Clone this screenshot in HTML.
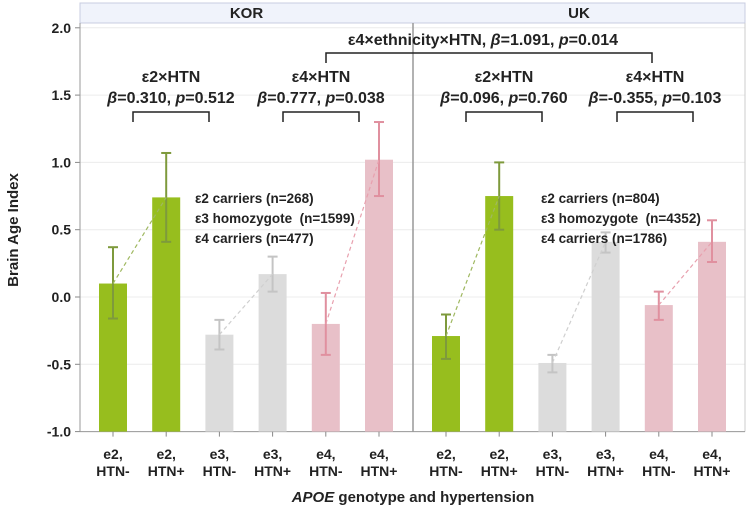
<!DOCTYPE html>
<html><head><meta charset="utf-8"><style>
body{margin:0;background:#fff}
svg text{font-family:"Liberation Sans",Arial,sans-serif;font-weight:bold;fill:#222;white-space:pre}
</style></head><body>
<svg width="750" height="510">
<g id="g"></g>
</svg>
<script>
const categories=["e2, HTN-","e2, HTN+","e3, HTN-","e3, HTN+","e4, HTN-","e4, HTN+"];
const korValues=[0.10,0.74,-0.28,0.17,-0.20,1.02];
const korLow=[-0.16,0.41,-0.39,0.04,-0.43,0.75];
const korHigh=[0.37,1.07,-0.17,0.30,0.03,1.30];
const ukValues=[-0.29,0.75,-0.49,0.41,-0.06,0.41];
const ukLow=[-0.46,0.50,-0.56,0.33,-0.17,0.26];
const ukHigh=[-0.13,1.00,-0.43,0.48,0.04,0.57];
const yTicks=[2.0,1.5,1.0,0.5,0.0,-0.5,-1.0];

const NS="http://www.w3.org/2000/svg";
const g=document.getElementById('g');
function el(t,a,txt){const e=document.createElementNS(NS,t);for(const k in a)e.setAttribute(k,a[k]);if(txt!=null)e.textContent=txt;g.appendChild(e);return e;}
const y=v=>297-v*134.6;
const L=80,M=413,R=745;
const xPos=(p,i)=>(p===0?L:M)+33+i*53.2;
const fills=["#97be1e","#97be1e","#dcdcdc","#dcdcdc","#e8c0c8","#e8c0c8"];
const errc=["#7e9a3c","#7e9a3c","#c4c4c4","#c4c4c4","#e0909f","#e0909f"];
const dash=["#9fb860","#9fb860","#cfcfcf","#cfcfcf","#e8a0ae","#e8a0ae"];
let h=el('rect',{x:L,y:3,width:R-L,height:20,fill:'#f0f3fb',stroke:'#c8cce0'});


let t=el('text',{x:(L+M)/2,y:18,'text-anchor':'middle','font-size':15},'KOR');


t=el('text',{x:(M+R)/2,y:18,'text-anchor':'middle','font-size':15},'UK');


yTicks.forEach(v=>{
 let l=el('line',{x1:L,x2:R,y1:y(v),y2:y(v),stroke:'#ececec'});
 
 
 el('line',{x1:L-5,x2:L,y1:y(v),y2:y(v),stroke:'#888'});
 let tx=el('text',{x:L-9,y:y(v)+5,'text-anchor':'end','font-size':14},v.toFixed(1));
 
 
});
el('line',{x1:L,x2:L,y1:23,y2:y(-1),stroke:'#999'});
el('line',{x1:M,x2:M,y1:23,y2:y(-1),stroke:'#999',"stroke-width":1.5});
el('line',{x1:R,x2:R,y1:23,y2:y(-1),stroke:'#ccc'});
el('line',{x1:L,x2:R,y1:y(-1),y2:y(-1),stroke:'#999'});
[[korValues,korLow,korHigh],[ukValues,ukLow,ukHigh]].forEach((d,p)=>{
 const [vals,lo,hi]=d;
 vals.forEach((v,i)=>{
  const cx=xPos(p,i);
  let bar=el('rect',{x:cx-14,y:Math.min(y(v),y(-1)),width:28,height:Math.abs(y(-1)-y(v)),fill:fills[i]});
  
  
  el('line',{x1:cx,x2:cx,y1:y(lo[i]),y2:y(hi[i]),stroke:errc[i],'stroke-width':2});
  el('line',{x1:cx-5,x2:cx+5,y1:y(lo[i]),y2:y(lo[i]),stroke:errc[i],'stroke-width':2});
  el('line',{x1:cx-5,x2:cx+5,y1:y(hi[i]),y2:y(hi[i]),stroke:errc[i],'stroke-width':2});
  el('line',{x1:cx,x2:cx,y1:y(-1),y2:y(-1)+5,stroke:'#888'});
  const parts=categories[i].split(' ');
  let l1=el('text',{x:cx,y:459,'text-anchor':'middle','font-size':14},parts[0]);
  
  
  el('text',{x:cx,y:476,'text-anchor':'middle','font-size':14},parts[1]);
 });
 for(let i=0;i<6;i+=2){
  let dl=el('line',{x1:xPos(p,i),y1:y(vals[i]),x2:xPos(p,i+1),y2:y(vals[i+1]),stroke:dash[i],'stroke-dasharray':'4,3','stroke-width':1.2});
  
  
 }
});
function bracket(x1,x2,yy,yb){el('path',{d:`M${x1} ${yb} V${yy} H${x2} V${yb}`,fill:'none',stroke:'#222','stroke-width':1.5});}
function ann(cx,l1,beta,pv,yy){
 el('text',{x:cx,y:yy,'text-anchor':'middle','font-size':16},l1);
 const tt=el('text',{x:cx,y:yy+21,'text-anchor':'middle','font-size':16});
 
 
 tt.innerHTML=`<tspan font-style="italic">β</tspan>=${beta}, <tspan font-style="italic">p</tspan>=${pv}`;
}
bracket(133,209,112,122);ann(171,'ε2×HTN','0.310','0.512',82);
bracket(283,359,112,122);ann(321,'ε4×HTN','0.777','0.038',82);
bracket(466,542,112,122);ann(504,'ε2×HTN','0.096','0.760',82);
bracket(617,693,112,122);ann(655,'ε4×HTN','-0.355','0.103',82);
bracket(326,652,53,63);
let topAnn=el('text',{x:483,y:45,'text-anchor':'middle','font-size':16});


topAnn.innerHTML='ε4×ethnicity×HTN, <tspan font-style="italic">β</tspan>=1.091, <tspan font-style="italic">p</tspan>=0.014';
[["ε2 carriers (n=268)","ε3 homozygote  (n=1599)","ε4 carriers (n=477)"],["ε2 carriers (n=804)","ε3 homozygote  (n=4352)","ε4 carriers (n=1786)"]].forEach((ls,p)=>{
 ls.forEach((s,i)=>{let lt=el('text',{x:p?541:195,y:203+i*20,'font-size':13.5},s);
 
 });
});
let yt=el('text',{x:18,y:230,'text-anchor':'middle','font-size':15,transform:'rotate(-90 18 230)'},'Brain Age Index');


let xt=el('text',{x:413,y:502,'text-anchor':'middle','font-size':15});


xt.innerHTML='<tspan font-style="italic">APOE</tspan> genotype and hypertension';
</script>
</body></html>
